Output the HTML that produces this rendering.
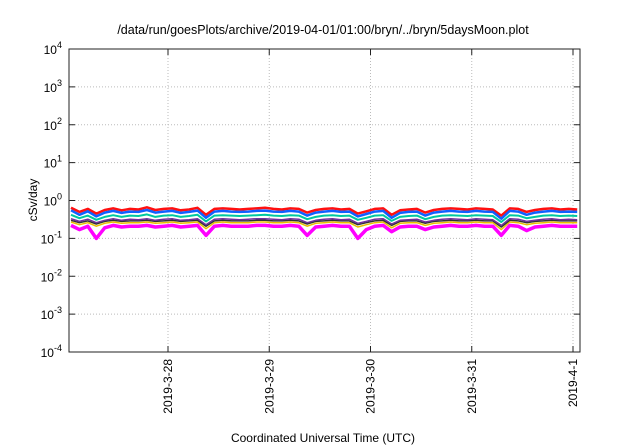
<!DOCTYPE html>
<html><head><meta charset="utf-8">
<style>
html,body{margin:0;padding:0;background:#fff;}
svg{display:block;font-family:"Liberation Sans",sans-serif;}
</style></head>
<body>
<svg id="chart" width="640" height="448" viewBox="0 0 640 448">
<text x="323" y="34" font-size="12.5" text-anchor="middle">/data/run/goesPlots/archive/2019-04-01/01:00/bryn/../bryn/5daysMoon.plot</text>
<g id="grid"></g>
<g id="series"></g>
<rect x="69" y="49" width="511" height="303" fill="none" stroke="#222" stroke-width="1"/>
<g id="axes"></g>
<text transform="translate(37,200) rotate(-90)" font-size="12" text-anchor="middle">cSv/day</text>
<text x="323" y="442" font-size="12" text-anchor="middle">Coordinated Universal Time (UTC)</text>
</svg>
<script>
const xTickLabels = ["2019-3-28","2019-3-29","2019-3-30","2019-3-31","2019-4-1"];
const xTickHours = [24,48,72,96,120];
const yTickExps = [-4,-3,-2,-1,0,1,2,3,4];
// hours since 2019-3-27 00:00, every 2h
const hours = [1,3,5,7,9,11,13,15,17,19,21,23,25,27,29,31,33,35,37,39,41,43,45,47,49,51,53,55,57,59,61,63,65,67,69,71,73,75,77,79,81,83,85,87,89,91,93,95,97,99,101,103,105,107,109,111,113,115,117,119,121];
const redVals = [0.64,0.50,0.60,0.45,0.56,0.62,0.55,0.60,0.58,0.66,0.56,0.60,0.62,0.55,0.58,0.64,0.42,0.60,0.62,0.60,0.58,0.60,0.62,0.64,0.60,0.58,0.62,0.60,0.48,0.56,0.60,0.62,0.58,0.60,0.45,0.52,0.60,0.62,0.42,0.55,0.58,0.60,0.48,0.56,0.60,0.62,0.60,0.58,0.62,0.60,0.58,0.40,0.62,0.60,0.50,0.56,0.60,0.62,0.58,0.60,0.58];
const blueVals = [0.55,0.42,0.52,0.38,0.48,0.53,0.47,0.51,0.50,0.56,0.48,0.51,0.53,0.47,0.50,0.54,0.35,0.51,0.53,0.51,0.50,0.51,0.53,0.54,0.51,0.50,0.53,0.51,0.40,0.48,0.51,0.53,0.50,0.51,0.38,0.44,0.51,0.53,0.35,0.47,0.50,0.51,0.40,0.48,0.51,0.53,0.51,0.50,0.53,0.51,0.50,0.33,0.53,0.51,0.42,0.48,0.51,0.53,0.50,0.51,0.50];
const tealVals = [0.42,0.34,0.40,0.31,0.37,0.41,0.37,0.40,0.39,0.43,0.37,0.40,0.41,0.37,0.39,0.42,0.28,0.40,0.41,0.40,0.39,0.40,0.41,0.42,0.40,0.39,0.41,0.40,0.32,0.37,0.40,0.41,0.39,0.40,0.31,0.35,0.40,0.41,0.29,0.37,0.39,0.40,0.32,0.37,0.40,0.41,0.40,0.39,0.41,0.40,0.39,0.27,0.41,0.40,0.34,0.37,0.40,0.41,0.39,0.40,0.39];
const purpleVals = [0.33,0.28,0.32,0.26,0.30,0.33,0.30,0.32,0.31,0.33,0.30,0.32,0.33,0.30,0.31,0.33,0.23,0.32,0.33,0.32,0.31,0.32,0.33,0.33,0.32,0.31,0.33,0.32,0.26,0.30,0.32,0.33,0.31,0.32,0.25,0.28,0.32,0.33,0.24,0.30,0.31,0.32,0.27,0.30,0.32,0.33,0.32,0.31,0.33,0.32,0.31,0.22,0.33,0.32,0.28,0.30,0.32,0.33,0.31,0.32,0.31];
const blackVals = [0.30,0.26,0.29,0.24,0.28,0.30,0.28,0.29,0.29,0.30,0.28,0.29,0.30,0.28,0.29,0.30,0.21,0.29,0.30,0.29,0.29,0.29,0.30,0.30,0.29,0.29,0.30,0.29,0.24,0.28,0.29,0.30,0.29,0.29,0.23,0.26,0.29,0.30,0.22,0.28,0.29,0.29,0.25,0.28,0.29,0.30,0.29,0.29,0.30,0.29,0.29,0.20,0.30,0.29,0.26,0.28,0.29,0.30,0.29,0.29,0.29];
const yellowVals = [0.27,0.23,0.26,0.21,0.25,0.27,0.25,0.26,0.26,0.27,0.25,0.26,0.27,0.25,0.26,0.27,0.18,0.26,0.27,0.26,0.26,0.26,0.27,0.27,0.26,0.26,0.27,0.26,0.21,0.25,0.26,0.27,0.26,0.26,0.20,0.23,0.26,0.27,0.19,0.25,0.26,0.26,0.22,0.25,0.26,0.27,0.26,0.26,0.27,0.26,0.26,0.17,0.27,0.26,0.23,0.25,0.26,0.27,0.26,0.26,0.26];
const magentaVals = [0.22,0.17,0.21,0.10,0.19,0.22,0.20,0.21,0.21,0.22,0.20,0.21,0.22,0.20,0.21,0.22,0.12,0.21,0.22,0.21,0.21,0.21,0.22,0.22,0.21,0.21,0.22,0.21,0.12,0.20,0.21,0.22,0.21,0.21,0.10,0.17,0.21,0.22,0.15,0.20,0.21,0.21,0.17,0.20,0.21,0.22,0.21,0.21,0.22,0.21,0.21,0.12,0.22,0.21,0.16,0.20,0.21,0.22,0.21,0.21,0.21];

const NS='http://www.w3.org/2000/svg';
const L=69,R=580,T=49,B=352;
function xs(h){return 168+(h-24)*101.25/24;}
function ys(v){return B-(Math.log10(v)+4)*(B-T)/8;}
const grid=document.getElementById('grid'),axes=document.getElementById('axes'),ser=document.getElementById('series');
function mk(tag,attrs,parent){const e=document.createElementNS(NS,tag);for(const k in attrs)e.setAttribute(k,attrs[k]);parent.appendChild(e);return e;}
yTickExps.forEach(function(e){
  const y=ys(Math.pow(10,e));
  if(e>-4&&e<4){const g=mk('line',{x1:L,x2:R,y1:y,y2:y,stroke:'#bbb','stroke-dasharray':'1,2','stroke-width':1},grid);
  
  }
  const t1=mk('line',{x1:L,x2:L+6,y1:y,y2:y,stroke:'#222'},axes);
  
  
  const t2=mk('line',{x1:R,x2:R-6,y1:y,y2:y,stroke:'#222'},axes);
  
  
  const tx=mk('text',{x:62,y:y+5,'font-size':12,'text-anchor':'end'},axes);
  
  
  tx.appendChild(document.createTextNode('10'));
  const sp=mk('tspan',{dy:-6,'font-size':9},tx);sp.textContent=String(e);
});
xTickHours.forEach(function(h,i){
  const x=xs(h);
  const g=mk('line',{x1:x,x2:x,y1:T,y2:B,stroke:'#bbb','stroke-dasharray':'1,2'},grid);
  
  
  const t1=mk('line',{x1:x,x2:x,y1:B,y2:B-6,stroke:'#222'},axes);
  
  
  const t2=mk('line',{x1:x,x2:x,y1:T,y2:T+6,stroke:'#222'},axes);
  
  
  const tx=mk('text',{transform:'translate('+(x+4)+',359) rotate(-90)','font-size':12,'text-anchor':'end'},axes);
  
  
  tx.textContent=xTickLabels[i];
});
const seriesList=[[magentaVals,'#ff00ff',3.5,'magenta'],[yellowVals,'#e8c000',1.5,'yellow'],[blackVals,'#333',1.5,'black'],[purpleVals,'#7030a0',1.5,'purple'],[tealVals,'#00c8a0',2,'teal'],[redVals,'#ff1010',2.5,'red'],[blueVals,'#1060ff',2.5,'blue']];
seriesList.forEach(function(s){
  const d=hours.map(function(h,i){return (i?'L':'M')+xs(h).toFixed(1)+','+ys(s[0][i]).toFixed(1);}).join('');
  const p=mk('path',{d:d,fill:'none',stroke:s[1],'stroke-width':s[2],'stroke-linejoin':'round'},ser);
  
  
});
</script>
</body></html>
